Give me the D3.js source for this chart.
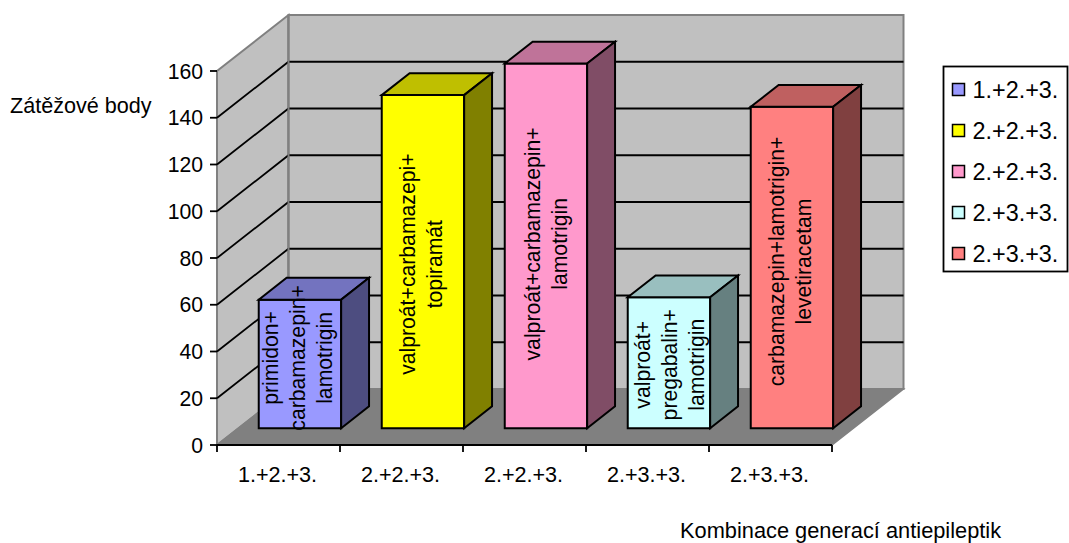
<!DOCTYPE html>
<html>
<head>
<meta charset="utf-8">
<style>
html,body{margin:0;padding:0;background:#fff}
svg{display:block}
text{font-family:"Liberation Sans",Arial,sans-serif;fill:#000}
</style>
<script src="https://cdn.jsdelivr.net/npm/d3@7"></script>
</head>
<body>
<svg id="chart" width="1069" height="543"></svg>
<script>
// Load points per drug combination
const categories = ["1.+2.+3.", "2.+2.+3.", "2.+2.+3.", "2.+3.+3.", "2.+3.+3."];
const values = [55, 142.5, 156, 56, 137.5];
const barLabels = [
  ["primidon+", "carbamazepin+", "lamotrigin"],
  ["valproát+carbamazepi+", "topiramát"],
  ["valproát+carbamazepin+", "lamotrigin"],
  ["valproát+", "pregabalin+", "lamotrigin"],
  ["carbamazepin+lamotrigin+", "levetiracetam"]
];
const barColors = ["#9999ff", "#ffff00", "#ff99cc", "#ccffff", "#ff8080"];
const yTicks = [0, 20, 40, 60, 80, 100, 120, 140, 160];
const yTitle = "Zátěžové body";
const xTitle = "Kombinace generací antiepileptik";

const svg = d3.select("#chart");
const FONT = 21.6, BAR_FONT = 21.2, TICK_FONT = 21.2, LEGEND_FONT = 23.4;

// Oblique projection: a depth of 0..1 shifts a point right and up
const x = d3.scaleBand().domain(d3.range(categories.length)).range([217, 832]).paddingInner(0).paddingOuter(0);
const y = d3.scaleLinear().domain([0, 160]).range([445, 71]);
const depthX = d3.scaleLinear().domain([0, 1]).range([0, 71.5]);
const depthY = d3.scaleLinear().domain([0, 1]).range([0, -56]);
const pt = (px, v, d) => [px + depthX(d), y(v) + depthY(d)];
const poly = pts => d3.line()(pts) + "Z";

const x0 = x.range()[0], x1 = x.range()[1];

// Left wall, back wall and floor
svg.append("path").attr("d", poly([pt(x0,0,0), pt(x0,160,0), pt(x0,160,1), pt(x0,0,1)]))
  .attr("fill", "#c0c0c0").attr("stroke", "#808080").attr("stroke-width", 2);
svg.append("path").attr("d", poly([pt(x0,0,1), pt(x0,160,1), pt(x1,160,1), pt(x1,0,1)]))
  .attr("fill", "#c0c0c0").attr("stroke", "#808080").attr("stroke-width", 2);
svg.append("path").attr("d", poly([pt(x0,0,0), pt(x1,0,0), pt(x1,0,1), pt(x0,0,1)]))
  .attr("fill", "#808080").attr("stroke", "#808080").attr("stroke-width", 1.5);

// Gridlines run along the left wall and across the back wall
yTicks.filter(t => t > 0 && t < 160).forEach(t => {
  svg.append("path").attr("d", d3.line()([pt(x0,t,0), pt(x0,t,1), pt(x1,t,1)]))
    .attr("fill", "none").attr("stroke", "#000").attr("stroke-width", 1.8);
});
svg.append("path").attr("d", d3.line()([pt(x0,160,1), pt(x0,0,1)]))
  .attr("stroke", "#808080").attr("stroke-width", 2);

// Axes at the front of the floor
yTicks.forEach(t => {
  svg.append("line").attr("x1", x0 - 7).attr("x2", x0).attr("y1", y(t)).attr("y2", y(t))
    .attr("stroke", "#000").attr("stroke-width", 1.8);
  svg.append("text").attr("x", x0 - 14).attr("y", y(t)).attr("dy", "0.36em")
    .attr("text-anchor", "end").attr("font-size", TICK_FONT).text(t);
});
svg.append("line").attr("x1", x0).attr("x2", x1).attr("y1", y(0)).attr("y2", y(0))
  .attr("stroke", "#000").attr("stroke-width", 1.8);
d3.range(categories.length + 1).forEach(i => {
  const tx = i < categories.length ? x(i) : x1;
  svg.append("line").attr("x1", tx).attr("x2", tx).attr("y1", y(0)).attr("y2", y(0) + 7)
    .attr("stroke", "#000").attr("stroke-width", 1.8);
});
categories.forEach((c, i) => {
  svg.append("text").attr("x", x(i) + x.bandwidth() / 2 - 1).attr("y", 482)
    .attr("text-anchor", "middle").attr("font-size", FONT).text(c);
});

// Bars: front, top and side faces
const barStart = 0.30, barEnd = 0.69, barInset = 0.165;
const labelShift = [-6, 2.5, -2, 2, -6];
const labelDrift = [0, 0, 2.5, 3, 0];
const lineGap = 27;
const shade = (c, k) => { const o = d3.rgb(c); return d3.rgb(o.r * k, o.g * k, o.b * k).formatHex(); };

values.forEach((v, i) => {
  const left = x(i) + x.bandwidth() * barInset, right = x(i) + x.bandwidth() * (1 - barInset);
  const g = svg.append("g").attr("stroke", "#000").attr("stroke-width", 2).attr("stroke-linejoin", "miter");
  g.append("path").attr("fill", barColors[i])
    .attr("d", poly([pt(left,0,barStart), pt(right,0,barStart), pt(right,v,barStart), pt(left,v,barStart)]));
  g.append("path").attr("fill", shade(barColors[i], 0.75))
    .attr("d", poly([pt(left,v,barStart), pt(right,v,barStart), pt(right,v,barEnd), pt(left,v,barEnd)]));
  g.append("path").attr("fill", shade(barColors[i], 0.5))
    .attr("d", poly([pt(right,0,barStart), pt(right,0,barEnd), pt(right,v,barEnd), pt(right,v,barStart)]));
});

// Rotated captions sit on top of all the bars
values.forEach((v, i) => {
  const left = x(i) + x.bandwidth() * barInset, right = x(i) + x.bandwidth() * (1 - barInset);
  const cx = (left + right) / 2 + depthX(barStart) - 2.2 + labelDrift[i];
  const cy = (y(v) + y(0)) / 2 + depthY(barStart) + labelShift[i];
  const n = barLabels[i].length;
  barLabels[i].forEach((line, j) => {
    const lx = cx + (j - (n - 1) / 2) * lineGap;
    svg.append("text").attr("transform", `translate(${lx},${cy}) rotate(-90)`)
      .attr("text-anchor", "middle").attr("dy", "0.36em").attr("font-size", BAR_FONT).text(line);
  });
});

// Axis titles
svg.append("text").attr("x", 10).attr("y", 113).attr("font-size", FONT).text(yTitle);
svg.append("text").attr("x", 680).attr("y", 538).attr("font-size", FONT + 0.2).text(xTitle);

// Legend
svg.append("rect").attr("x", 943.5).attr("y", 66.5).attr("width", 124).attr("height", 205)
  .attr("fill", "#fff").attr("stroke", "#000").attr("stroke-width", 1.8);
const legendY = d3.scalePoint().domain(d3.range(categories.length)).range([90, 254]);
categories.forEach((c, i) => {
  svg.append("rect").attr("x", 952.5).attr("y", legendY(i) - 6.5).attr("width", 12).attr("height", 12)
    .attr("fill", barColors[i]).attr("stroke", "#000").attr("stroke-width", 1.5);
  svg.append("text").attr("x", 972.5).attr("y", legendY(i)).attr("dy", "0.36em")
    .attr("font-size", LEGEND_FONT).text(c);
});
</script>
</body>
</html>
